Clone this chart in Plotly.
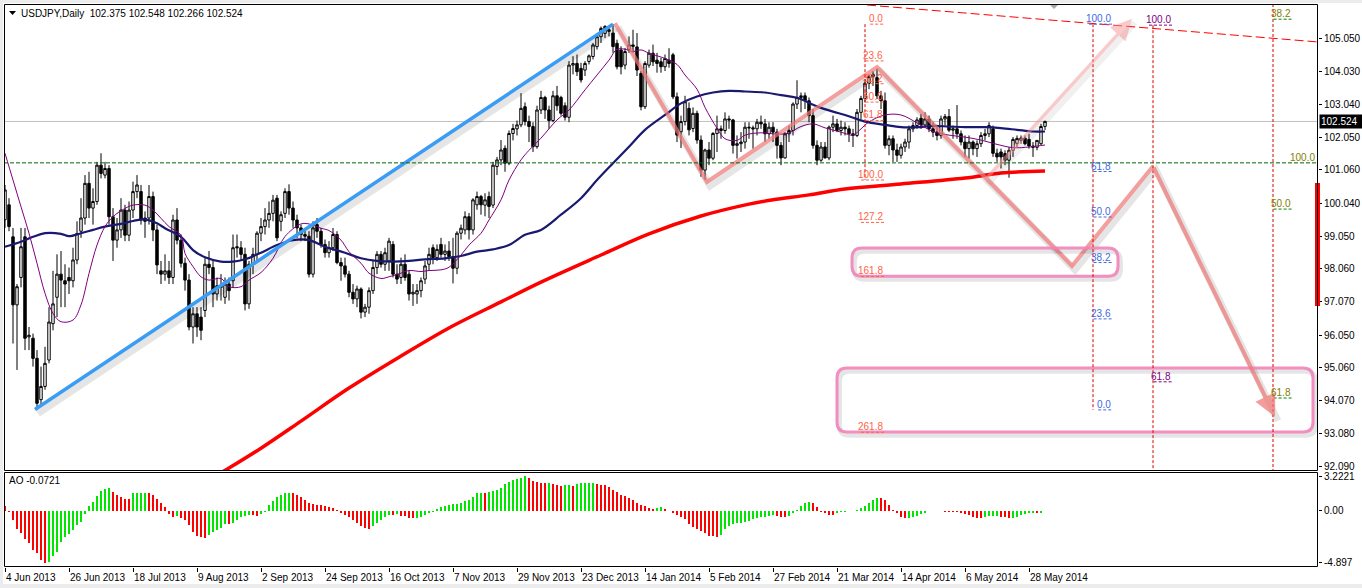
import plotly.graph_objects as go

# ---------------------------------------------------------------- data
XTICK_LABELS = ['4 Jun 2013', '26 Jun 2013', '18 Jul 2013', '9 Aug 2013', '2 Sep 2013',
                '24 Sep 2013', '16 Oct 2013', '7 Nov 2013', '29 Nov 2013', '23 Dec 2013',
                '14 Jan 2014', '5 Feb 2014', '27 Feb 2014', '21 Mar 2014', '14 Apr 2014',
                '6 May 2014', '28 May 2014']
XTICK_BARS = [0, 16, 32, 48, 64, 80, 96, 112, 128, 144, 160, 176, 192, 208, 224, 240, 256]
PRICE_TICKS = [105.050, 104.030, 103.040, 102.050, 101.060, 100.040, 99.050, 98.060,
               97.070, 96.050, 95.060, 94.070, 93.080, 92.090]
AO_TICKS = [3.2221, 0.0, -4.897]
AO_TICK_TEXT = ['3.2221', '0.00', '-4.897']

OPEN = [99.55, 100.00, 99.03, 96.97, 97.80, 99.03, 96.00, 95.96, 95.35, 94.10,
        94.50, 95.30, 96.40, 97.20, 97.90, 97.70, 97.80, 97.70, 98.33, 99.20,
        99.60, 100.65, 99.90, 100.10, 101.20, 100.90, 101.10, 99.64, 98.93, 99.24,
        99.84, 99.08, 99.84, 100.40, 100.40, 99.60, 99.60, 100.25, 99.24, 98.00,
        97.90, 98.00, 97.80, 99.54, 98.93, 98.23, 97.72, 96.30, 96.70, 96.60,
        96.80, 98.20, 98.10, 97.30, 97.55, 97.20, 97.60, 97.70, 98.73, 98.70,
        98.50, 97.00, 98.20, 98.50, 99.14, 99.34, 99.54, 99.74, 100.20, 99.50,
        99.74, 100.40, 99.90, 99.54, 99.30, 99.10, 99.05, 97.90, 99.40, 99.20,
        98.80, 98.55, 98.70, 99.10, 98.25, 98.15, 97.90, 97.35, 97.15, 97.45,
        96.75, 96.90, 97.40, 98.10, 98.50, 98.20, 98.30, 98.80, 97.90, 97.80,
        98.20, 97.90, 97.30, 97.30, 97.40, 97.75, 98.20, 98.70, 98.40, 98.80,
        98.50, 98.60, 98.43, 98.08, 99.14, 99.24, 99.64, 99.24, 100.00, 100.25,
        99.99, 100.25, 99.99, 101.16, 101.36, 101.71, 101.26, 102.16, 102.30, 102.42,
        102.97, 102.52, 102.37, 101.76, 102.87, 103.25, 102.87, 102.55, 103.30, 103.25,
        103.00, 102.65, 104.23, 104.28, 104.13, 104.08, 104.34, 104.49, 104.79, 105.09,
        105.19, 105.25, 105.20, 104.89, 104.69, 104.23, 104.70, 104.84, 104.78, 103.98,
        102.97, 104.23, 104.59, 104.38, 104.33, 104.18, 104.38, 104.54, 103.27, 102.21,
        102.52, 102.92, 102.31, 102.77, 101.96, 101.05, 101.66, 101.41, 102.16, 102.30,
        102.25, 102.60, 102.57, 101.80, 101.85, 101.90, 102.35, 102.33, 102.30, 102.50,
        102.45, 102.15, 102.35, 102.20, 101.80, 101.42, 102.15, 102.25, 103.05, 103.25,
        103.30, 103.15, 102.70, 101.80, 101.35, 101.75, 101.42, 102.35, 102.45, 102.25,
        102.35, 102.30, 102.15, 102.10, 102.80, 103.22, 103.68, 103.88, 103.85, 103.30,
        103.15, 101.80, 102.00, 101.66, 101.50, 101.75, 101.90, 102.30, 102.40, 102.62,
        102.42, 102.60, 102.30, 102.20, 102.10, 102.60, 102.67, 102.26, 102.30, 102.15,
        101.90, 101.70, 101.90, 101.70, 101.85, 102.10, 102.15, 102.30, 101.56, 101.60,
        101.55, 101.35, 101.65, 101.86, 101.95, 102.02, 101.98, 101.78, 101.74, 101.85,
        102.375]
HIGH = [100.60, 100.20, 99.30, 97.60, 99.30, 99.30, 96.30, 96.10, 95.60, 95.10,
        95.70, 96.90, 98.00, 98.50, 98.60, 98.20, 98.10, 98.70, 99.50, 100.20,
        100.90, 101.00, 100.50, 101.30, 101.56, 101.30, 101.20, 99.90, 99.60, 100.20,
        100.00, 100.10, 100.70, 100.90, 100.60, 99.80, 100.60, 100.40, 99.40, 98.30,
        98.50, 98.30, 99.70, 99.90, 99.10, 98.40, 97.90, 96.90, 96.90, 96.90,
        98.40, 98.60, 98.30, 97.80, 97.90, 97.80, 97.80, 99.10, 99.10, 98.90,
        98.70, 98.30, 98.70, 99.20, 99.60, 99.90, 100.10, 100.30, 100.30, 99.80,
        100.50, 100.62, 100.10, 99.70, 99.40, 99.30, 99.20, 99.50, 99.60, 99.30,
        98.95, 98.90, 99.30, 99.20, 98.40, 98.40, 98.00, 97.60, 97.55, 97.50,
        97.00, 97.50, 98.30, 98.60, 98.60, 98.70, 99.00, 98.90, 98.20, 98.40,
        98.50, 98.00, 97.60, 97.60, 97.80, 98.30, 98.70, 98.80, 98.80, 99.00,
        98.80, 98.90, 99.00, 99.20, 99.40, 99.80, 99.75, 100.20, 100.40, 100.30,
        100.35, 100.40, 101.30, 101.45, 101.96, 101.80, 102.25, 102.45, 102.55, 103.38,
        103.10, 102.70, 102.50, 103.00, 103.45, 103.30, 103.00, 103.45, 103.60, 103.30,
        103.10, 104.35, 104.50, 104.55, 104.30, 104.35, 104.55, 104.90, 105.20, 105.40,
        105.44, 105.40, 105.47, 105.00, 104.80, 104.75, 105.10, 105.30, 105.20, 104.05,
        104.35, 104.70, 104.85, 104.60, 104.45, 104.55, 104.74, 104.60, 103.40, 102.70,
        103.30, 103.10, 102.95, 102.85, 102.10, 101.70, 101.90, 102.20, 102.70, 102.40,
        102.80, 102.70, 102.60, 102.10, 102.20, 102.50, 102.50, 102.40, 102.60, 102.70,
        102.60, 102.50, 102.50, 102.30, 101.90, 102.20, 102.40, 103.10, 103.77, 103.40,
        103.40, 103.25, 102.90, 101.95, 101.90, 101.90, 102.40, 102.70, 102.60, 102.55,
        102.50, 102.40, 102.30, 102.90, 103.30, 103.80, 103.95, 104.05, 104.13, 103.45,
        103.40, 102.10, 102.10, 101.85, 101.85, 102.00, 102.40, 102.50, 102.65, 102.75,
        102.80, 102.70, 102.50, 102.35, 102.70, 102.75, 102.90, 102.40, 103.02, 102.25,
        102.10, 102.10, 101.95, 101.95, 102.20, 102.30, 102.50, 102.40, 101.70, 101.70,
        101.65, 101.75, 102.05, 102.10, 102.10, 102.10, 102.15, 101.90, 101.95, 102.45,
        102.548]
LOW = [99.30, 99.20, 95.80, 95.00, 97.50, 95.60, 95.60, 95.10, 93.80, 93.90,
       94.40, 95.20, 96.20, 96.60, 96.90, 96.90, 97.30, 97.50, 98.20, 99.00,
       99.40, 99.60, 99.40, 100.00, 100.80, 100.80, 99.40, 98.30, 98.70, 99.00,
       98.90, 98.90, 99.60, 100.20, 99.40, 99.00, 99.40, 98.90, 97.90, 97.60,
       97.70, 97.60, 97.60, 98.80, 98.10, 97.40, 96.20, 95.80, 96.00, 95.90,
       96.60, 97.90, 96.90, 97.10, 97.10, 97.00, 97.10, 97.50, 98.40, 98.30,
       96.80, 96.85, 97.90, 98.30, 98.90, 99.10, 99.30, 99.50, 98.90, 99.20,
       99.60, 99.70, 99.30, 99.00, 98.90, 98.90, 97.80, 97.80, 99.00, 98.70,
       98.40, 98.40, 98.60, 98.20, 97.70, 97.80, 97.20, 97.00, 96.90, 96.56,
       96.60, 96.70, 97.30, 97.90, 98.10, 98.00, 98.00, 97.80, 97.60, 97.60,
       97.70, 97.10, 96.94, 97.00, 97.20, 97.60, 98.00, 98.20, 98.30, 98.40,
       98.30, 98.30, 97.62, 97.90, 98.95, 99.10, 98.95, 99.10, 99.85, 99.70,
       99.65, 99.60, 99.90, 100.90, 101.20, 101.00, 101.20, 101.95, 102.10, 102.35,
       102.40, 101.90, 101.60, 101.70, 102.75, 102.60, 102.30, 102.50, 102.85, 102.70,
       102.55, 102.50, 103.95, 103.90, 103.70, 103.90, 104.25, 104.40, 104.70, 104.90,
       105.05, 105.10, 104.60, 104.10, 103.95, 104.10, 104.60, 104.60, 103.90, 102.86,
       102.90, 104.15, 104.20, 104.00, 104.00, 104.05, 104.15, 103.20, 101.90, 101.72,
       102.40, 102.10, 102.20, 101.85, 100.85, 100.76, 101.20, 101.35, 101.60, 102.00,
       102.15, 102.30, 101.55, 101.40, 101.60, 101.70, 102.00, 101.70, 102.10, 102.30,
       101.90, 102.00, 101.90, 101.40, 101.20, 101.40, 101.90, 102.10, 102.90, 102.80,
       102.90, 102.50, 101.70, 101.20, 101.30, 101.40, 101.35, 102.20, 102.20, 102.10,
       102.10, 101.90, 101.75, 102.05, 102.60, 103.10, 103.50, 103.60, 103.20, 102.90,
       101.70, 101.50, 101.30, 101.30, 101.40, 101.60, 101.70, 102.20, 102.30, 102.30,
       102.35, 102.20, 102.05, 101.95, 102.00, 102.40, 102.20, 102.00, 102.00, 101.80,
       101.45, 101.40, 101.50, 101.45, 101.75, 101.95, 102.05, 101.45, 101.30, 101.10,
       101.20, 100.82, 101.45, 101.75, 101.85, 101.80, 101.70, 101.45, 101.65, 101.80,
       102.266]
CLOSE = [100.45, 99.34, 96.97, 97.52, 98.73, 95.96, 96.05, 95.35, 93.99, 94.50,
         95.20, 96.45, 97.00, 97.90, 97.72, 97.60, 97.70, 98.33, 99.13, 99.60,
         100.65, 99.90, 100.10, 101.20, 100.95, 101.10, 99.64, 98.93, 99.24, 99.84,
         99.08, 99.84, 100.40, 100.60, 99.54, 99.50, 100.25, 99.24, 98.18, 97.90,
         98.00, 97.80, 99.54, 98.93, 98.23, 97.72, 96.30, 96.70, 96.30, 96.20,
         98.20, 98.10, 97.30, 97.55, 97.50, 97.60, 97.40, 98.70, 98.70, 98.50,
         97.00, 98.20, 98.50, 99.14, 99.34, 99.54, 99.74, 100.14, 99.00, 99.70,
         100.40, 99.90, 99.54, 99.30, 99.10, 99.05, 97.90, 99.30, 99.20, 98.80,
         98.55, 98.70, 99.10, 98.25, 98.15, 97.90, 97.35, 97.15, 97.45, 96.75,
         96.90, 97.40, 98.10, 98.50, 98.20, 98.55, 98.90, 97.90, 97.75, 98.20,
         97.80, 97.30, 97.35, 97.40, 97.70, 98.15, 98.50, 98.40, 98.65, 98.50,
         98.60, 98.43, 98.08, 99.14, 99.29, 99.64, 99.24, 100.15, 100.25, 100.00,
         100.15, 99.95, 101.20, 101.36, 101.66, 101.26, 102.16, 102.31, 102.42, 102.92,
         102.52, 102.37, 101.76, 102.87, 103.25, 102.87, 102.55, 103.30, 103.00, 102.77,
         102.65, 104.23, 104.28, 104.03, 103.78, 104.28, 104.51, 104.84, 105.09, 105.34,
         105.40, 105.30, 104.79, 104.18, 104.18, 104.64, 104.84, 104.80, 104.08, 102.97,
         104.28, 104.59, 104.33, 104.28, 104.18, 104.43, 104.28, 103.27, 102.11, 102.52,
         103.12, 102.27, 102.77, 101.96, 101.05, 101.66, 101.41, 102.16, 102.30, 102.25,
         102.60, 102.57, 101.80, 101.85, 101.90, 102.35, 102.33, 102.30, 102.50, 102.45,
         102.15, 102.35, 102.20, 101.80, 101.42, 102.15, 102.25, 103.05, 103.25, 103.30,
         103.15, 102.70, 101.80, 101.35, 101.75, 101.42, 102.35, 102.45, 102.25, 102.35,
         102.30, 102.15, 102.10, 102.80, 103.22, 103.68, 103.88, 103.95, 103.30, 103.15,
         101.80, 102.00, 101.66, 101.50, 101.75, 101.90, 102.30, 102.40, 102.57, 102.42,
         102.60, 102.30, 102.20, 102.10, 102.60, 102.67, 102.26, 102.30, 102.15, 101.90,
         101.70, 101.90, 101.70, 101.85, 102.10, 102.15, 102.40, 101.56, 101.45, 101.45,
         101.35, 101.65, 101.98, 102.01, 102.02, 101.85, 101.78, 101.74, 101.95, 102.37,
         102.524]

AO = [0.45, -0.10, -0.89, -1.78, -2.10, -2.64, -3.10, -3.70, -4.00, -4.65,
      -4.897, -4.85, -4.30, -3.90, -2.96, -2.50, -2.20, -1.85, -1.40, -1.05,
      -0.30, 0.40, 0.80, 1.35, 1.80, 2.05, 2.10, 1.70, 1.50, 1.27,
      1.10, 1.05, 1.60, 1.62, 1.63, 1.65, 1.60, 1.50, 1.10, 0.70,
      0.32, -0.32, -0.57, -0.55, -0.73, -0.90, -1.37, -2.00, -2.40, -2.50,
      -2.55, -2.30, -2.00, -1.85, -1.60, -1.27, -1.30, -1.20, -0.90, -0.64,
      -0.50, -0.42, -0.43, -0.50, -0.30, -0.10, 0.55, 0.86, 1.27, 1.50,
      1.60, 1.66, 1.60, 1.50, 1.27, 0.96, 0.70, 0.64, 0.55, 0.50,
      0.38, 0.32, 0.22, 0.02, -0.25, -0.40, -0.64, -0.90, -1.20, -1.46,
      -1.60, -1.70, -1.46, -1.20, -0.90, -0.57, -0.40, -0.42, -0.30, -0.50,
      -0.52, -0.73, -0.75, -0.73, -0.57, -0.40, -0.20, -0.10, 0.13, 0.32,
      0.45, 0.50, 0.57, 0.64, 0.70, 0.86, 1.00, 1.27, 1.60, 1.66,
      1.64, 1.72, 1.80, 1.90, 2.10, 2.45, 2.67, 2.86, 3.00, 3.10,
      3.2221, 3.10, 2.77, 2.67, 2.60, 2.55, 2.57, 2.50, 2.36, 2.30,
      2.36, 2.38, 2.35, 2.45, 2.55, 2.57, 2.58, 2.60, 2.45, 2.44,
      2.43, 2.20, 1.95, 1.70, 1.50, 1.35, 1.20, 0.96, 0.70, 0.55,
      0.38, 0.22, 0.12, 0.22, 0.32, 0.12, -0.02, -0.25, -0.45, -0.57,
      -0.83, -1.27, -1.53, -1.72, -1.90, -2.16, -2.35, -2.42, -2.48, -2.32,
      -1.78, -1.46, -1.27, -1.15, -1.14, -1.05, -0.95, -0.83, -0.73, -0.64,
      -0.57, -0.50, -0.45, -0.50, -0.57, -0.64, -0.50, -0.19, 0.06, 0.45,
      0.70, 0.83, 0.70, 0.32, -0.10, -0.25, -0.38, -0.41, -0.25, -0.16,
      -0.10, -0.03, -0.06, 0.06, 0.19, 0.38, 0.70, 1.02, 1.21, 1.18,
      1.02, 0.54, 0.06, -0.25, -0.57, -0.73, -0.72, -0.64, -0.50, -0.32,
      -0.19, -0.06, -0.07, -0.08, -0.09, -0.10, -0.10, -0.11, -0.13, -0.19,
      -0.32, -0.45, -0.57, -0.70, -0.73, -0.57, -0.50, -0.49, -0.48, -0.57,
      -0.64, -0.73, -0.72, -0.57, -0.41, -0.32, -0.25, -0.19, -0.25, -0.19,
      -0.0721]

PURPLE_MA_BARS = [0, 2, 4, 6, 8, 10, 12, 14, 17, 19, 21, 23, 25, 27, 30, 32, 35, 37, 39, 41,
                  44, 45, 47, 49, 51, 54, 56, 59, 61, 64, 67, 70, 74, 76, 79, 81, 84, 86, 89, 91,
                  94, 96, 99, 101, 104, 106, 109, 111, 114, 116, 119, 121, 124, 126, 129, 131, 134, 138, 141, 145,
                  148, 151, 153, 155, 157, 159, 161, 165, 168, 170, 173, 175, 178, 180, 183, 185, 189, 191, 194, 196,
                  199, 202, 205, 209, 212, 214, 216, 220, 224, 228, 232, 236, 240, 244, 248, 252, 256, 258, 260]
PURPLE_MA = [101.56, 100.75, 99.94, 99.14, 98.23, 97.32, 96.71, 96.46, 96.51, 96.97,
             97.92, 98.78, 99.34, 99.64, 99.89, 99.99, 99.99, 99.84, 99.59, 99.34,
             99.08, 98.53, 98.13, 97.82, 97.72, 97.77, 97.52, 97.52, 97.72, 97.95,
             98.38, 99.04, 99.42, 99.42, 99.29, 99.22, 98.93, 98.58, 98.23, 97.93,
             97.77, 97.82, 97.93, 98.01, 97.98, 98.01, 98.03, 98.11, 98.48, 98.78,
             99.14, 99.54, 100.15, 100.75, 101.36, 101.65, 102.02, 102.57, 102.87, 103.48,
             103.93, 104.38, 104.71, 104.71, 104.64, 104.69, 104.59, 104.43, 104.25, 103.93,
             103.50, 102.95, 102.32, 102.00, 101.95, 102.11, 102.18, 102.16, 102.14, 102.18,
             102.37, 102.45, 102.33, 102.20, 102.11, 102.30, 102.51, 102.72, 102.72, 102.48,
             102.22, 102.11, 102.05, 101.96, 101.83, 101.73, 101.75, 101.78, 101.81]

NAVY_MA_BARS = [0, 4, 7, 10, 14, 16, 19, 22, 25, 29, 32, 35, 38, 40, 44, 47, 50, 54, 57, 60,
                64, 68, 72, 76, 80, 85, 89, 93, 97, 101, 105, 110, 114, 118, 122, 126, 130, 134, 139, 144,
                148, 152, 156, 160, 165, 169, 173, 177, 181, 185, 190, 194, 198, 203, 207, 210, 215, 220, 224, 228,
                232, 236, 240, 245, 249, 253, 257, 260]
NAVY_MA = [98.73, 98.88, 99.03, 99.14, 99.12, 99.05, 99.14, 99.24, 99.34, 99.42,
           99.51, 99.56, 99.44, 99.29, 99.03, 98.63, 98.41, 98.28, 98.28, 98.35,
           98.55, 98.78, 98.93, 98.93, 98.73, 98.55, 98.38, 98.30, 98.28, 98.30,
           98.35, 98.38, 98.45, 98.58, 98.65, 98.78, 99.09, 99.24, 99.70, 100.20,
           100.75, 101.26, 101.76, 102.27, 102.72, 103.07, 103.28, 103.40, 103.45, 103.43,
           103.40, 103.32, 103.24, 102.98, 102.82, 102.72, 102.52, 102.42, 102.35, 102.35,
           102.39, 102.37, 102.35, 102.35, 102.32, 102.27, 102.22, 102.22]

RED_MA_BARS = [52, 56, 64, 74, 86, 99, 111, 124, 134, 149, 161, 174, 186, 192, 201, 210, 224, 240, 249, 260]
RED_MA = [91.75, 92.03, 92.63, 93.45, 94.45, 95.42, 96.27, 97.06, 97.66, 98.48,
          99.12, 99.66, 100.02, 100.15, 100.30, 100.48, 100.63, 100.81, 100.96, 101.02]

# analyst drawings (anchor bar index, price)
BLUE_LINE_BARS = [7.5, 152.0]
BLUE_LINE_PRICES = [93.80, 105.47]
ZIGZAG_BARS = [152.5, 175.5, 218.0, 266.75, 287.0, 317.5]
ZIGZAG_PRICES = [105.50, 100.69, 104.17, 98.15, 101.17, 93.58]
LIGHT_ARROW_BARS = [245.0, 281.75]
LIGHT_ARROW_PRICES = [100.75, 105.63]
BOX_BARS = [(211.75, 278.25), (208.0, 327.0)]
BOX_PRICES = [(97.84, 98.69), (93.12, 95.06)]
TRENDLINE_BARS = [215.5, 328.25]
TRENDLINE_PRICES = [106.05, 104.93]

FIB1_BAR, FIB1_P0, FIB1_P100 = 215, 105.47, 100.75
FIB1_LEVELS = [0.0, 23.6, 38.2, 50.0, 61.8, 100.0, 127.2, 161.8, 261.8]
FIB2_BAR, FIB2_P100, FIB2_P0 = 272, 105.47, 93.79
FIB2_LEVELS = [100.0, 61.8, 50.0, 38.2, 23.6, 0.0]
FIB3_BAR = 287
FIB3_LEVELS = [100.0, 61.8]
FIB3_PRICES = [105.44, 94.64]
FIB4_BAR = 317
FIB4_LEVELS = [38.2, 50.0, 61.8]
FIB4_PRICES = [105.62, 99.87, 94.15]
GREEN_HLINE = 101.27
LAST_PRICE = 102.524
TITLE = 'USDJPY,Daily\u00a0\u00a0102.375 102.548 102.266 102.524'
AO_TITLE = 'AO -0.0721'

# ---------------------------------------------------------------- geometry
W, H = 1362, 588
L_PX, R_PX, T_PX, B_PX = 4, 1318, 4, 567
MAIN_BOT_PX, AO_TOP_PX = 470, 472
X0, X1 = -0.25, 328.25
Y0, Y1 = 91.97, 106.08
AO_RANGE = [-5.31, 3.62]
FONT = 'Liberation Sans'
FS = 10


def pxx(px):
    return (px - L_PX) / (R_PX - L_PX)


def pxy(py):
    return (B_PX - py) / (B_PX - T_PX)


BAR_PER_PX = (X1 - X0) / (R_PX - L_PX)
PRICE_PER_PX = (Y1 - Y0) / (MAIN_BOT_PX - T_PX)

bars = list(range(len(CLOSE)))
fig = go.Figure()

# candles
fig.add_trace(go.Candlestick(
    x=bars, open=OPEN, high=HIGH, low=LOW, close=CLOSE,
    increasing=dict(line=dict(color='black', width=1), fillcolor='white'),
    decreasing=dict(line=dict(color='black', width=1), fillcolor='black'),
    whiskerwidth=0, xaxis='x', yaxis='y', hoverinfo='skip', showlegend=False))

# moving averages
fig.add_trace(go.Scatter(x=RED_MA_BARS, y=RED_MA, mode='lines', line_shape='spline',
                         line=dict(color='#ff0000', width=3.5), yaxis='y', showlegend=False, hoverinfo='skip'))
fig.add_trace(go.Scatter(x=NAVY_MA_BARS, y=NAVY_MA, mode='lines', line_shape='spline',
                         line=dict(color='#191970', width=2.2), yaxis='y', showlegend=False, hoverinfo='skip'))
fig.add_trace(go.Scatter(x=PURPLE_MA_BARS, y=PURPLE_MA, mode='lines', line_shape='spline',
                         line=dict(color='#800080', width=1), yaxis='y', showlegend=False, hoverinfo='skip'))

# AO histogram
ao_colors = ['#ff0000'] + ['#00e600' if AO[i] > AO[i - 1] else '#ff0000' for i in range(1, len(AO))]
fig.add_trace(go.Bar(x=bars, y=AO, marker=dict(color=ao_colors, line=dict(width=0)), width=0.72,
                     xaxis='x', yaxis='y2', showlegend=False, hoverinfo='skip'))

# shadows + drawings
SDX, SDY = 3 * BAR_PER_PX, 4 * PRICE_PER_PX
shadow = 'rgba(0,0,0,0.10)'
fig.add_trace(go.Scatter(x=[b + SDX for b in BLUE_LINE_BARS], y=[p - SDY for p in BLUE_LINE_PRICES],
                         mode='lines', line=dict(color=shadow, width=7), showlegend=False, hoverinfo='skip'))
fig.add_trace(go.Scatter(x=BLUE_LINE_BARS, y=BLUE_LINE_PRICES, mode='lines',
                         line=dict(color='#3a9cf2', width=3.5), showlegend=False, hoverinfo='skip'))
fig.add_trace(go.Scatter(x=[b + SDX for b in ZIGZAG_BARS], y=[p - SDY for p in ZIGZAG_PRICES],
                         mode='lines', line=dict(color=shadow, width=7), showlegend=False, hoverinfo='skip'))
fig.add_trace(go.Scatter(x=[b + SDX for b in LIGHT_ARROW_BARS], y=[p - SDY for p in LIGHT_ARROW_PRICES],
                         mode='lines', line=dict(color='rgba(0,0,0,0.06)', width=6), showlegend=False, hoverinfo='skip'))
fig.add_trace(go.Scatter(x=ZIGZAG_BARS[:-1], y=ZIGZAG_PRICES[:-1], mode='lines',
                         line=dict(color='rgba(240,120,120,0.72)', width=4), showlegend=False, hoverinfo='skip'))

shapes = []
annotations = []


def rounded_path(x0, x1, y0, y1):
    rx, ry = 10 * BAR_PER_PX, 10 * PRICE_PER_PX
    return (f'M {x0 + rx},{y1} L {x1 - rx},{y1} Q {x1},{y1} {x1},{y1 - ry} '
            f'L {x1},{y0 + ry} Q {x1},{y0} {x1 - rx},{y0} L {x0 + rx},{y0} '
            f'Q {x0},{y0} {x0},{y0 + ry} L {x0},{y1 - ry} Q {x0},{y1} {x0 + rx},{y1} Z')


for (bx0, bx1), (p0, p1) in zip(BOX_BARS, BOX_PRICES):
    shapes.append(dict(type='path', xref='x', yref='y', layer='above',
                       path=rounded_path(bx0 + SDX * 0.8, bx1 + SDX * 0.8, p0 - SDY * 0.8, p1 - SDY * 0.8),
                       line=dict(color='rgba(0,0,0,0.10)', width=5)))
    shapes.append(dict(type='path', xref='x', yref='y', layer='above',
                       path=rounded_path(bx0, bx1, p0, p1),
                       line=dict(color='rgba(242,130,185,0.9)', width=3)))

# arrows
annotations.append(dict(x=ZIGZAG_BARS[-1], y=ZIGZAG_PRICES[-1], ax=ZIGZAG_BARS[-2], ay=ZIGZAG_PRICES[-2],
                        xref='x', yref='y', axref='x', ayref='y', text='', showarrow=True,
                        arrowhead=2, arrowsize=1.1, arrowwidth=4, arrowcolor='rgba(240,120,120,0.72)'))
annotations.append(dict(x=LIGHT_ARROW_BARS[-1], y=LIGHT_ARROW_PRICES[-1], ax=LIGHT_ARROW_BARS[0],
                        ay=LIGHT_ARROW_PRICES[0], xref='x', yref='y', axref='x', ayref='y', text='',
                        showarrow=True, arrowhead=2, arrowsize=1.2, arrowwidth=3.5,
                        arrowcolor='rgba(245,150,150,0.5)'))

# horizontal lines
shapes.append(dict(type='line', xref='paper', yref='y', x0=0, x1=1, y0=LAST_PRICE, y1=LAST_PRICE,
                   line=dict(color='#c0c0c0', width=1), layer='below'))
shapes.append(dict(type='line', xref='paper', yref='y', x0=0, x1=1, y0=GREEN_HLINE, y1=GREEN_HLINE,
                   line=dict(color='#006400', width=1, dash='4px,2px')))
shapes.append(dict(type='line', xref='x', yref='y', x0=TRENDLINE_BARS[0], x1=TRENDLINE_BARS[1],
                   y0=TRENDLINE_PRICES[0], y1=TRENDLINE_PRICES[1],
                   line=dict(color='#ff0000', width=1, dash='9px,4px')))


def vline(bar, p_top, p_bot):
    shapes.append(dict(type='line', xref='x', yref='y', x0=bar, x1=bar, y0=p_top, y1=p_bot,
                       line=dict(color='#e00000', width=1, dash='3px,2px')))


def fib_labels(bar, levels, prices, tcolor, lcolor):
    right = bar + 19 * BAR_PER_PX
    for lv, p in zip(levels, prices):
        txt = f'{lv:.1f}'
        w = len(txt) * 4.6 * BAR_PER_PX
        shapes.append(dict(type='line', xref='x', yref='y', x0=right - w, x1=right, y0=p, y1=p,
                           line=dict(color=lcolor, width=1, dash='3px,2px')))
        annotations.append(dict(xref='x', yref='y', x=right, y=p, xanchor='right', yanchor='bottom',
                                text=txt, showarrow=False, borderpad=0, yshift=-1,
                                font=dict(family=FONT, size=FS, color=tcolor)))


fib1_prices = [FIB1_P0 - lv / 100 * (FIB1_P0 - FIB1_P100) for lv in FIB1_LEVELS]
vline(FIB1_BAR, FIB1_P0, FIB1_P100)
fib_labels(FIB1_BAR, FIB1_LEVELS, fib1_prices, '#ff6347', '#ff6347')
fib2_prices = [FIB2_P0 + lv / 100 * (FIB2_P100 - FIB2_P0) for lv in FIB2_LEVELS]
vline(FIB2_BAR, FIB2_P100, FIB2_P0)
fib_labels(FIB2_BAR, FIB2_LEVELS, fib2_prices, '#4169e1', '#4169e1')
vline(FIB3_BAR, FIB3_PRICES[0], Y0)
fib_labels(FIB3_BAR, FIB3_LEVELS, FIB3_PRICES, '#800080', '#800080')
vline(FIB4_BAR, Y1, Y0)
fib_labels(FIB4_BAR, FIB4_LEVELS, FIB4_PRICES, '#808000', '#008000')
annotations.append(dict(xref='paper', yref='y', x=pxx(1316), y=GREEN_HLINE, xanchor='right', yanchor='bottom',
                        text='100.0', showarrow=False, borderpad=0, yshift=-1,
                        font=dict(family=FONT, size=FS, color='#808000')))

# current price tag + red bar
annotations.append(dict(xref='paper', yref='y', x=pxx(1319), y=LAST_PRICE, xanchor='left', yanchor='middle',
                        text='102.524', showarrow=False, bgcolor='black', borderpad=1, width=40, align='left',
                        font=dict(family=FONT, size=FS, color='white')))
shapes.append(dict(type='rect', xref='paper', yref='paper', x0=pxx(1315), x1=pxx(1320),
                   y0=pxy(306), y1=pxy(183), fillcolor='#ff0000', line=dict(width=0)))

# titles
annotations.append(dict(xref='paper', yref='paper', x=pxx(19), y=pxy(13), xanchor='left', yanchor='middle',
                        text=TITLE, showarrow=False, font=dict(family=FONT, size=FS, color='black')))
annotations.append(dict(xref='paper', yref='paper', x=pxx(7), y=pxy(481), xanchor='left', yanchor='middle',
                        text=AO_TITLE, showarrow=False, font=dict(family=FONT, size=FS, color='black')))
shapes.append(dict(type='path', xref='paper', yref='paper', fillcolor='black', line=dict(width=0),
                   path=f'M {pxx(9)},{pxy(11)} L {pxx(16)},{pxy(11)} L {pxx(12.5)},{pxy(15)} Z'))
shapes.append(dict(type='path', xref='paper', yref='paper', fillcolor='#a8a8a8', line=dict(width=0),
                   path=f'M {pxx(1049)},{pxy(4)} L {pxx(1059)},{pxy(4)} L {pxx(1054)},{pxy(9)} Z'))

# x labels
for b, lab in zip(XTICK_BARS, XTICK_LABELS):
    annotations.append(dict(xref='x', yref='paper', x=b, y=pxy(577), xanchor='left', yanchor='middle',
                            text=lab, showarrow=False, xshift=-1,
                            font=dict(family=FONT, size=FS, color='black')))

# frames
for (x0p, x1p, y0p, y1p) in [(4.5, 1317.5, 4.5, 470.5), (4.5, 1317.5, 472.5, 566.5)]:
    shapes.append(dict(type='rect', xref='paper', yref='paper', x0=pxx(x0p), x1=pxx(x1p),
                       y0=pxy(y1p), y1=pxy(y0p), line=dict(color='black', width=1)))
# window chrome
for (x0p, x1p, y0p, y1p) in [(0, 1362, 0, 3), (0, 3, 0, 588), (0, 1362, 584, 588)]:
    shapes.append(dict(type='rect', xref='paper', yref='paper', x0=pxx(x0p), x1=pxx(x1p),
                       y0=pxy(y1p), y1=pxy(y0p), fillcolor='#ececec', line=dict(width=0), layer='below'))

fig.update_layout(
    width=W, height=H, margin=dict(l=L_PX, r=W - R_PX, t=T_PX, b=H - B_PX, autoexpand=False),
    paper_bgcolor='white', plot_bgcolor='white', showlegend=False, hovermode=False,
    boxgap=0.22, boxgroupgap=0.22, bargap=0,
    font=dict(family=FONT, size=FS, color='black'),
    shapes=shapes, annotations=annotations,
    xaxis=dict(range=[X0, X1], anchor='y2', showgrid=False, zeroline=False, showline=False,
               tickvals=XTICK_BARS, ticktext=[''] * len(XTICK_BARS), ticks='outside', ticklen=4,
               tickcolor='black', rangeslider=dict(visible=False), fixedrange=True),
    yaxis=dict(domain=[pxy(MAIN_BOT_PX), 1.0], range=[Y0, Y1], side='right', showgrid=False,
               zeroline=False, showline=False, tickvals=PRICE_TICKS,
               ticktext=[f'{v:.3f}' for v in PRICE_TICKS], ticks='outside', ticklen=3, tickcolor='black',
               automargin=False, tickfont=dict(family=FONT, size=FS, color='black')),
    yaxis2=dict(domain=[0.0, pxy(AO_TOP_PX)], range=AO_RANGE, side='right', showgrid=False,
                zeroline=False, showline=False, tickvals=AO_TICKS, ticktext=AO_TICK_TEXT,
                ticks='outside', ticklen=3, tickcolor='black', automargin=False,
                tickfont=dict(family=FONT, size=FS, color='black')),
)

fig.write_html('out.html', config={'displayModeBar': False, 'staticPlot': True},
               post_script="document.body.style.margin='0';document.body.style.overflow='hidden';")
